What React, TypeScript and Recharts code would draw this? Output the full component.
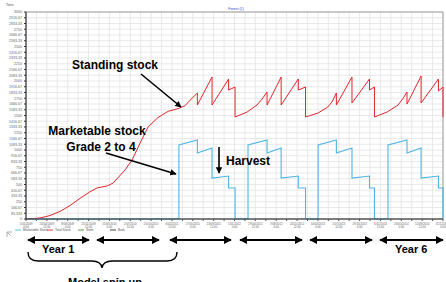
import {
  LineChart,
  Line,
  XAxis,
  YAxis,
  CartesianGrid,
  ReferenceArea,
} from "recharts";

// x axis is days since 1/01/2009
const xTickDays = [0, 109.5, 219, 328.5, 438, 547.5, 657, 766.5, 876, 985.5, 1095, 1204.5, 1314, 1423.5, 1533, 1642.5, 1752, 1861.5, 1971, 2080.5, 2190];
const xTickDates = ["1/01/2009", "20/04/2009", "8/08/2009", "25/11/2009", "15/03/2010", "2/07/2010", "20/10/2010", "6/02/2011", "27/05/2011", "13/09/2011", "1/01/2012", "19/04/2012", "7/08/2012", "24/11/2012", "14/03/2013", "1/07/2013", "19/10/2013", "5/02/2014", "26/05/2014", "12/09/2014", "31/12/2014"];
const xTickTimes = ["0:00", "12:00", "0:00", "12:00", "0:00", "12:00", "0:00", "12:00", "0:00", "12:00", "0:00", "12:00", "0:00", "12:00", "0:00", "12:00", "0:00", "12:00", "0:00", "12:00", "0:00"];

const yTickLabels = ["0", "83.333", "166.67", "250", "333.33", "416.67", "500", "583.33", "666.67", "750", "833.33", "916.67", "1000", "1083.33", "1166.67", "1250", "1333.33", "1416.67", "1500", "1583.33", "1666.67", "1750", "1833.33", "1916.67", "2000", "2083.33", "2166.67", "2250", "2333.33", "2416.67", "2500", "2583.33", "2666.67", "2750", "2833.33", "2916.67", "3000"];

const totalDays = [0, 74, 126, 179, 231, 284, 336, 373, 425, 457, 520, 557, 599, 641, 693, 746, 798, 835, 861, 900, 900, 977, 977, 1064, 1064, 1098, 1098, 1161, 1213, 1240, 1266, 1266, 1340, 1340, 1430, 1430, 1468, 1468, 1534, 1585, 1608, 1630, 1630, 1712, 1712, 1804, 1804, 1830, 1830, 1896, 1954, 1978, 2001, 2001, 2075, 2075, 2166, 2166, 2190, 2190];
const totalValues = [0, 15, 50, 110, 195, 300, 395, 450, 478, 520, 710, 855, 1100, 1333, 1470, 1560, 1600, 1640, 1720, 1826, 1652, 2058, 1652, 2029, 1869, 1913, 1478, 1550, 1652, 1739, 1840, 1652, 2058, 1652, 2029, 1869, 1913, 1478, 1536, 1623, 1700, 1826, 1652, 2058, 1681, 2029, 1869, 1913, 1478, 1550, 1652, 1739, 1840, 1666, 2072, 1681, 2029, 1855, 1913, 1478];

const marketDays = [0, 803, 803, 900, 900, 977, 977, 1064, 1064, 1098, 1098, 1166, 1166, 1266, 1266, 1340, 1340, 1430, 1430, 1468, 1468, 1534, 1534, 1630, 1630, 1712, 1712, 1804, 1804, 1830, 1830, 1901, 1901, 2001, 2001, 2075, 2075, 2166, 2166, 2190, 2190];
const marketValues = [0, 0, 1072, 1145, 956, 1029, 594, 623, 449, 449, 0, 0, 1072, 1145, 956, 1029, 594, 623, 449, 449, 0, 0, 1072, 1145, 956, 1029, 594, 623, 449, 449, 0, 0, 1072, 1145, 956, 1029, 594, 623, 449, 449, 0];

const seriesNames = ["Marketable Stock", "Total Stock", "Stem", "Bark"];
const seriesColors = ["#4fb4e6", "#e3262c", "#3a9a3a", "#333333"];

const zip = (d: number[], v: number[]) => d.map((day, i) => ({ day, value: v[i] }));
const marketData = zip(marketDays, marketValues);
const totalData = zip(totalDays, totalValues);

// gridlines every half tick step
const gridDays = xTickDays.flatMap((d, i) =>
  i < xTickDays.length - 1 ? [d, (d + xTickDays[i + 1]) / 2] : [d]
);
const yTicks = yTickLabels.map(Number);

const XTick = (props: any) => {
  const { x, y, payload } = props;
  const i = xTickDays.indexOf(payload.value);
  if (i < 0) return <g />;
  return (
    <g transform={`translate(${x},${y})`}>
      <text textAnchor="middle" fontSize={2.9} fill="#666" fontFamily="Liberation Sans">
        <tspan x={0} dy={2.2}>{xTickDates[i]}</tspan>
        <tspan x={0} dy={3}>{xTickTimes[i]}</tspan>
      </text>
    </g>
  );
};

const font = "Liberation Sans, Arial, sans-serif";

export default function App() {
  return (
    <div style={{ position: "relative", width: 446, height: 282, background: "#fff", overflow: "hidden" }}>
      <style>{"body{margin:0}"}</style>
      <LineChart
        width={446}
        height={282}
        margin={{ top: 12, right: 3, bottom: 51, left: 0 }}
      >
        <CartesianGrid stroke="#e3e3e3" strokeWidth={0.8} />
        <XAxis
          dataKey="day"
          type="number"
          domain={[0, 2190]}
          ticks={gridDays}
          interval={0}
          height={12}
          allowDuplicatedCategory={false}
          tick={<XTick />}
          tickSize={2}
          stroke="#333"
          tickLine={{ stroke: "#555" }}
        />
        <XAxis
          xAxisId="top"
          orientation="top"
          dataKey="day"
          type="number"
          domain={[0, 2190]}
          ticks={gridDays}
          interval={0}
          height={0}
          tick={false}
          axisLine={{ stroke: "#444" }}
        />
        <YAxis
          type="number"
          domain={[0, 3000]}
          ticks={yTicks}
          interval={0}
          width={26}
          tickSize={2}
          stroke="#333"
          tick={{ fontSize: 3.6, fill: "#666", fontFamily: "Liberation Sans" }}
          tickFormatter={(v: number, i: number) => yTickLabels[i]}
        />
        <ReferenceArea x1={0} x2={2190} y1={0} y2={3000} fill="none" stroke="#888" strokeWidth={0.8} ifOverflow="visible" />
        <Line data={totalData} dataKey="value" name={seriesNames[1]} stroke={seriesColors[1]} strokeWidth={1} dot={false} isAnimationActive={false} />
        <Line data={marketData} dataKey="value" name={seriesNames[0]} stroke={seriesColors[0]} strokeWidth={1.1} dot={false} isAnimationActive={false} />
      </LineChart>

      <svg
        width={446}
        height={282}
        style={{ position: "absolute", left: 0, top: 0, pointerEvents: "none" }}
        fontFamily={font}
      >
        <defs>
          <marker id="ah" viewBox="0 0 10 10" refX="9" refY="5" markerWidth="4" markerHeight="4" orient="auto-start-reverse">
            <path d="M0,0 L10,5 L0,10 z" fill="#000" />
          </marker>
        </defs>

        <text x={6} y={6} fontSize={3.6} fill="#555">Tons</text>
        <text x={236} y={10} fontSize={3.6} fill="#3344cc" textAnchor="middle">Forest (1)</text>

        {/* legend */}
        {seriesNames.map((n, i) => {
          const lx = [15, 47, 78, 110][i];
          return (
            <g key={n}>
              <line x1={lx} x2={lx + 6} y1={230} y2={230} stroke={seriesColors[i]} strokeWidth={0.9} />
              <text x={lx + 8} y={231.2} fontSize={3.2} fill="#555">{n}</text>
            </g>
          );
        })}
        <path d="M7,232 L7,237 M7,232 L12,232 M7.5,232.5 L10.5,235.5" stroke="#777" strokeWidth={0.6} fill="none" />

        {/* annotations */}
        <text x={72} y={69} fontSize={12} fontWeight="bold">Standing stock</text>
        <line x1={141} y1={74} x2={181} y2={107} stroke="#000" strokeWidth={1.6} markerEnd="url(#ah)" />

        <text x={97} y={135} fontSize={12} fontWeight="bold" textAnchor="middle">Marketable stock</text>
        <text x={101} y={151} fontSize={12} fontWeight="bold" textAnchor="middle">Grade 2 to 4</text>
        <line x1={106} y1={153} x2={176} y2={174} stroke="#000" strokeWidth={1.6} markerEnd="url(#ah)" />

        <text x={226} y={165} fontSize={12} fontWeight="bold">Harvest</text>
        <line x1={219} y1={147} x2={219} y2={173} stroke="#000" strokeWidth={1.6} markerEnd="url(#ah)" />

        {/* year arrows */}
        {[[28, 89], [97, 159], [170, 231], [240, 302], [310, 372], [380, 443]].map(([a, b], i) => (
          <line key={i} x1={a} x2={b} y1={240} y2={240} stroke="#000" strokeWidth={2} markerStart="url(#ah)" markerEnd="url(#ah)" />
        ))}
        <text x={42} y={253} fontSize={11} fontWeight="bold">Year 1</text>
        <text x={395} y={253} fontSize={11} fontWeight="bold">Year 6</text>

        <path
          d="M28,252 Q28,261 38,261 L92,261 Q101,261 102,268 Q103,261 112,261 L167,261 Q177,261 177,252"
          stroke="#000"
          strokeWidth={1.4}
          fill="none"
        />
        <text x={68} y={286} fontSize={11} fontWeight="bold">Model spin up</text>
      </svg>
    </div>
  );
}
